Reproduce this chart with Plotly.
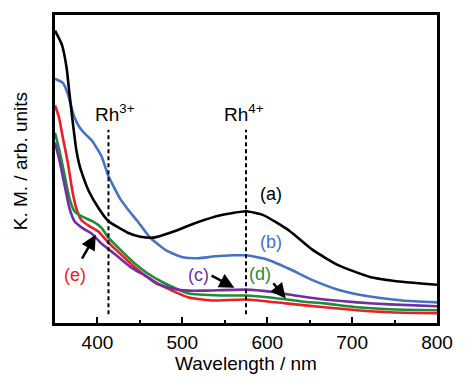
import plotly.graph_objects as go

# Wavelength (nm) / K.M. (arb. units)
wl_a = [350, 358, 363.7, 367, 370.6, 375, 378.5, 382, 390, 401.4, 412.8, 435.7, 450.5, 466, 489, 515.6, 546.4, 575, 595.5, 626, 652.7, 683.5, 721, 759, 800]
km_a = [2.98, 2.84, 2.60, 2.34, 2.07, 1.77, 1.62, 1.52, 1.34, 1.17, 1.04, 0.92, 0.88, 0.87, 0.93, 1.02, 1.10, 1.14, 1.10, 0.94, 0.75, 0.59, 0.47, 0.42, 0.39]

wl_b = [350, 359, 365, 369.4, 372.8, 378.5, 384, 393.4, 404.8, 412.8, 418.5, 426.5, 435.7, 447, 462, 481, 500.7, 519, 538.4, 561, 575, 599, 626.4, 652.7, 683.5, 721, 759, 800]
km_b = [2.49, 2.45, 2.34, 2.20, 2.10, 2.00, 1.94, 1.86, 1.70, 1.50, 1.40, 1.27, 1.16, 1.04, 0.87, 0.74, 0.67, 0.66, 0.68, 0.69, 0.69, 0.65, 0.55, 0.44, 0.34, 0.27, 0.23, 0.21]

wl_c = [350, 355.7, 361.4, 367, 372.8, 382, 393.4, 404.8, 420.8, 439, 458.5, 470, 489, 507.6, 527, 575, 603.5, 641, 667.5, 706, 744, 800]
km_c = [1.84, 1.64, 1.40, 1.17, 1.04, 0.97, 0.91, 0.81, 0.70, 0.57, 0.47, 0.40, 0.35, 0.33, 0.33, 0.34, 0.32, 0.27, 0.24, 0.21, 0.19, 0.17]

wl_d = [350, 355.7, 361.4, 367, 372.8, 381, 393.4, 404.8, 412.8, 427.7, 443.6, 458.5, 478, 507.6, 546.4, 575, 603.5, 641, 667.5, 706, 744, 800]
km_d = [1.94, 1.74, 1.50, 1.27, 1.14, 1.09, 1.04, 0.97, 0.87, 0.74, 0.61, 0.51, 0.41, 0.30, 0.28, 0.28, 0.26, 0.22, 0.20, 0.16, 0.14, 0.13]

wl_e = [350, 354.6, 359, 365, 370.6, 375, 381, 390, 401.4, 412.8, 427.7, 443.6, 458.5, 478, 507.6, 535, 575, 622, 667.5, 706, 744, 800]
km_e = [2.22, 2.10, 1.90, 1.64, 1.34, 1.17, 1.05, 0.99, 0.93, 0.82, 0.70, 0.57, 0.47, 0.37, 0.26, 0.23, 0.24, 0.20, 0.16, 0.13, 0.11, 0.10]

series = [
    ("(a)", wl_a, km_a, "#000000"),
    ("(b)", wl_b, km_b, "#4472C4"),
    ("(c)", wl_c, km_c, "#7030A0"),
    ("(d)", wl_d, km_d, "#1E8B3A"),
    ("(e)", wl_e, km_e, "#EE1C24"),
]

x_ticks = [400, 500, 600, 700, 800]
rh_lines = [413, 575]
rh_labels = ["Rh<sup>3+</sup>", "Rh<sup>4+</sup>"]

fig = go.Figure()
for name, x, y, c in series[::-1]:
    fig.add_trace(go.Scatter(x=x, y=y, mode="lines", name=name,
                             line=dict(color=c, width=2.6, shape="spline", smoothing=0.5),
                             showlegend=False))

for xv in rh_lines:
    fig.add_shape(type="line", x0=xv, x1=xv, y0=0.09, y1=1.97, xref="x", yref="y",
                  line=dict(color="black", width=2, dash="4px,3px"))

font = "Liberation Sans, Arial, sans-serif"
for xv, lab in zip([420.8, 572.7], rh_labels):
    fig.add_annotation(x=xv, y=2.14, text=lab, showarrow=False,
                       font=dict(family=font, size=19, color="black"))

labels = [("(a)", 604.7, 1.32, "#000000"), ("(b)", 604.7, 0.83, "#4472C4"),
          ("(c)", 519, 0.49, "#7030A0"), ("(d)", 592, 0.50, "#1E8B3A"),
          ("(e)", 374, 0.49, "#EE1C24")]
for t, xv, yv, c in labels:
    fig.add_annotation(x=xv, y=yv, text=t, showarrow=False,
                       font=dict(family=font, size=18, color=c))

arrows = [((380.8, 0.64), (398, 0.90)), ((532.7, 0.49), (561.3, 0.36)), ((605.8, 0.42), (621.8, 0.25))]
for (tx, ty), (hx, hy) in arrows:
    fig.add_annotation(x=hx, y=hy, ax=tx, ay=ty, axref="x", ayref="y", xref="x", yref="y",
                       text="", showarrow=True, arrowhead=2, arrowsize=1.2, arrowwidth=2.5,
                       arrowcolor="black", standoff=0, startstandoff=0)

fig.add_annotation(x=(19 - 55) / (465 - 55 - 16), y=(383 - 56 - 162) / (383 - 13 - 56),
                   xref="paper", yref="paper", text="K. M. / arb. units",
                   xanchor="center", yanchor="middle",
                   textangle=-90, showarrow=False, font=dict(family=font, size=19, color="black"))

fig.update_layout(
    width=465, height=383,
    margin=dict(l=55, r=16, t=13, b=56),
    paper_bgcolor="white", plot_bgcolor="white",
    font=dict(family=font, size=18, color="black"),
    xaxis=dict(range=[350, 800], tickvals=x_ticks, ticks="inside", ticklen=6, tickwidth=2,
               tickcolor="black", showline=True, linewidth=2.5, linecolor="black", mirror=True,
               showgrid=False, zeroline=False, tickfont=dict(size=19),
               minor=dict(dtick=50, tick0=350, ticks="inside", ticklen=3, tickwidth=2, tickcolor="black", showgrid=False),
               title=dict(text="Wavelength / nm", font=dict(size=19), standoff=5)),
    yaxis=dict(range=[0, 3.14], showticklabels=False, ticks="", showline=True, linewidth=2.5,
               linecolor="black", mirror=True, showgrid=False, zeroline=False),
)

fig.write_html("out.html")
